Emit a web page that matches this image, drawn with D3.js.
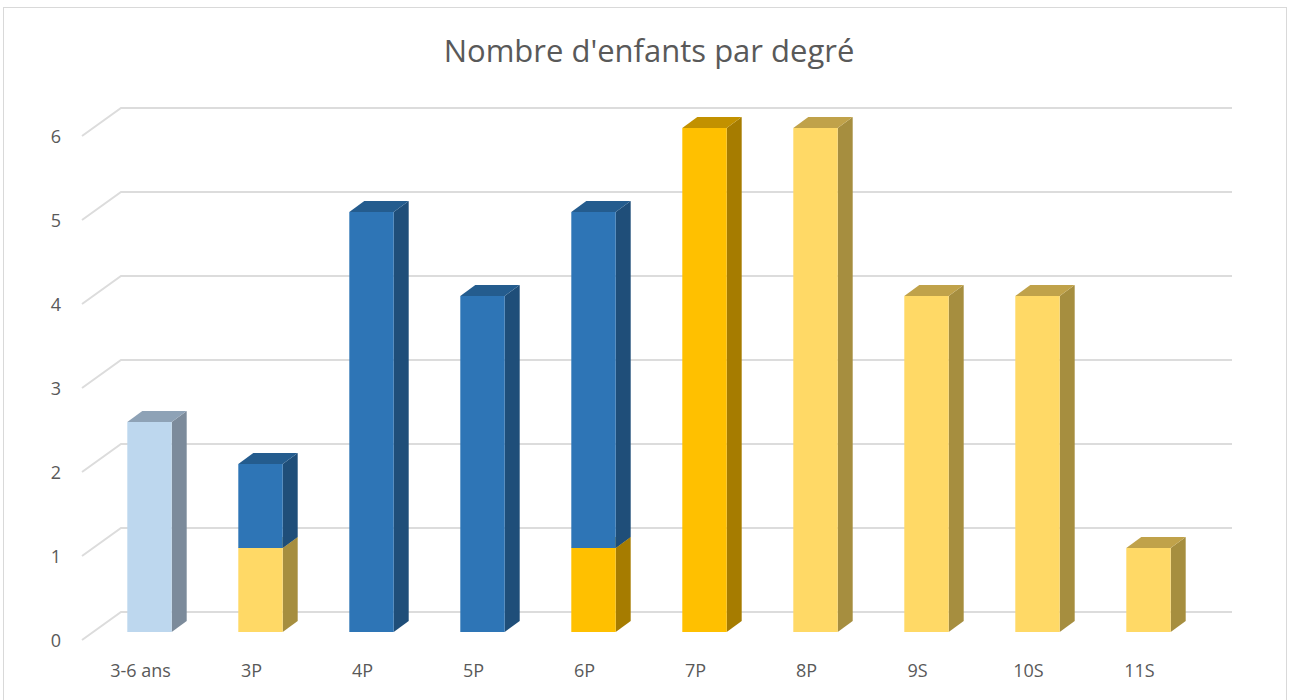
<!DOCTYPE html>
<html>
<head>
<meta charset="utf-8">
<script src="https://cdn.jsdelivr.net/npm/d3@7"></script>
<style>
  body { margin: 0; background: #fff; }
  text { font-family: "Open Sans", "Noto Sans", sans-serif; fill: #595959; }
</style>
</head>
<body>
<svg id="chart" width="1293" height="700"></svg>
<script>
// categories and series (stacked, bottom to top)
var categories = ["3-6 ans", "3P", "4P", "5P", "6P", "7P", "8P", "9S", "10S", "11S"];
var enfantine = [2.5, 0, 0, 0, 0, 0, 0, 0, 0, 0];
var secondaire = [0, 1, 0, 0, 0, 0, 6, 4, 4, 1];
var septieme = [0, 0, 0, 0, 1, 6, 0, 0, 0, 0];
var primaire = [0, 1, 5, 4, 4, 0, 0, 0, 0, 0];
var yTicks = [0, 1, 2, 3, 4, 5, 6];

var series = [
  {name: "enfantine", values: enfantine, front: "#bdd7ee", side: "#7c8b9b", top: "#8ea2b6"},
  {name: "secondaire", values: secondaire, front: "#ffd966", side: "#a68e3f", top: "#c0a24a"},
  {name: "septieme", values: septieme, front: "#ffc000", side: "#a67c00", top: "#c29100"},
  {name: "primaire", values: primaire, front: "#2e75b6", side: "#1f4e79", top: "#245c8e"}
];

var svg = d3.select("#chart");

// chart border
svg.append("rect")
  .attr("x", 3.5).attr("y", 7.5)
  .attr("width", 1283).attr("height", 700)
  .attr("fill", "none").attr("stroke", "#d9d9d9");

svg.append("text")
  .attr("x", 649).attr("y", 62)
  .attr("text-anchor", "middle")
  .attr("font-size", 31)
  .text("Nombre d'enfants par degré");

// front face scale of the bars
var y = d3.scaleLinear().domain([0, 6]).range([632, 128]);
var x = d3.scaleBand().domain(categories).range([94, 1204]).paddingInner(0.6).paddingOuter(0.3);

// depth offsets (oblique projection)
var wall = {dx: 28, dy: -20};
var barDepth = {dx: 15, dy: -11};
var wallLeft = 121, wallRight = 1232;

// gridlines: back wall + left side diagonal
var grid = svg.append("g").attr("stroke", "#dcdcdc").attr("stroke-width", 2).attr("fill", "none");
yTicks.forEach(function (t) {
  var yb = y(t) + wall.dy;
  grid.append("path")
    .attr("d", "M" + (wallLeft - 39) + "," + (yb + 28) + "L" + wallLeft + "," + yb + "L" + wallRight + "," + yb);
});

svg.append("g").selectAll("text")
  .data(yTicks)
  .join("text")
  .attr("x", 56).attr("y", function (d) { return y(d) + wall.dy + 28 + 7; })
  .attr("text-anchor", "middle")
  .attr("font-size", 18)
  .text(function (d) { return d; });

// stacked data
var stack = d3.stack()
  .keys(series.map(function (s) { return s.name; }))
  .value(function (d, key) { return d[key]; });
var rows = categories.map(function (c, i) {
  var r = {cat: c};
  series.forEach(function (s) { r[s.name] = s.values[i]; });
  return r;
});
var layers = stack(rows);

var bars = svg.append("g");
layers.forEach(function (layer, li) {
  var s = series[li];
  layer.forEach(function (seg, i) {
    if (seg[1] - seg[0] <= 0) return;
    var cat = categories[i];
    var x0 = x(cat), x1 = x0 + x.bandwidth();
    var yt = y(seg[1]), yb = y(seg[0]);
    var g = bars.append("g");
    // side face
    g.append("path")
      .attr("d", "M" + x1 + "," + yb + "L" + (x1 + barDepth.dx) + "," + (yb + barDepth.dy) +
        "L" + (x1 + barDepth.dx) + "," + (yt + barDepth.dy) + "L" + x1 + "," + yt + "Z")
      .attr("fill", s.side);
    // top face
    g.append("path")
      .attr("d", "M" + x0 + "," + yt + "L" + (x0 + barDepth.dx) + "," + (yt + barDepth.dy) +
        "L" + (x1 + barDepth.dx) + "," + (yt + barDepth.dy) + "L" + x1 + "," + yt + "Z")
      .attr("fill", s.top);
    // front face
    g.append("rect")
      .attr("x", x0).attr("y", yt)
      .attr("width", x.bandwidth()).attr("height", yb - yt)
      .attr("fill", s.front);
  });
});

// category labels
svg.append("g").selectAll("text")
  .data(categories)
  .join("text")
  .attr("x", function (d) { return x(d) + x.bandwidth() / 2 - 9; })
  .attr("y", 677)
  .attr("text-anchor", "middle")
  .attr("font-size", 18)
  .text(function (d) { return d; });
</script>
</body>
</html>
